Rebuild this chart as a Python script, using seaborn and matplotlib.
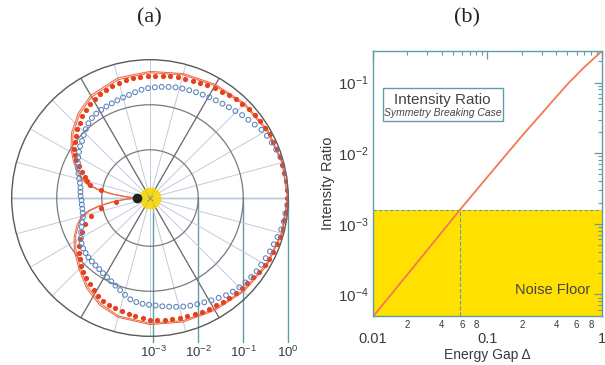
import numpy as np
import seaborn as sns
import matplotlib.pyplot as plt
from matplotlib.patches import Rectangle
from matplotlib.ticker import FixedLocator, FixedFormatter, NullFormatter, LogLocator

# ---- panel (a): angular pattern, radius given as log10(value) ----
red_theta = [0, 3.5, 7, 10.5, 14, 17.5, 21, 24.5, 28, 31.5, 35, 38.5, 42, 45.5, 49, 52.5, 56, 59.5,
             63, 66.5, 70, 73.5, 77, 80.5, 84, 87.5, 91, 94.5, 98, 101.5, 105, 108.5, 112, 115.5,
             119, 122.5, 126, 129.5, 133, 136.5, 140, 143.5, 147, 150, 153, 156, 159, 162, 165,
             167.5, 170.5, 187, 191.5, 197, 202, 206.5, 210.5, 214, 217.5, 221, 224.5, 228, 231.5,
             235, 238.5, 242, 245.5, 249, 252.5, 256, 259.5, 263, 266.5, 270, 273.5, 277, 280.5,
             284, 287.5, 291, 294.5, 298, 301.5, 305, 308.5, 312, 315.5, 319, 322.5, 326, 329.5,
             333, 336.5, 340, 343.5, 347, 350.5, 354, 357.5]
red_logr = [-0.02, -0.03, -0.035, -0.04, -0.045, -0.05, -0.055, -0.06, -0.065, -0.075, -0.09, -0.10,
            -0.12, -0.145, -0.17, -0.195, -0.22, -0.245, -0.265, -0.28, -0.295, -0.31, -0.32, -0.335,
            -0.345, -0.36, -0.37, -0.38, -0.39, -0.405, -0.42, -0.445, -0.475, -0.51, -0.55, -0.60,
            -0.65, -0.71, -0.78, -0.85, -0.92, -0.99, -1.06, -1.14, -1.23, -1.34, -1.45, -1.55, -1.63,
            -1.71, -1.96, -2.32, -1.95, -1.71, -1.52, -1.38, -1.26, -1.16, -1.07, -1.00, -0.93, -0.86,
            -0.80, -0.73, -0.67, -0.61, -0.565, -0.525, -0.50, -0.48, -0.455, -0.425, -0.395, -0.37,
            -0.355, -0.345, -0.335, -0.325, -0.315, -0.31, -0.30, -0.29, -0.28, -0.26, -0.245, -0.23,
            -0.22, -0.205, -0.185, -0.15, -0.12, -0.10, -0.085, -0.075, -0.06, -0.05, -0.048, -0.045,
            -0.03]

blue_theta = [0, 3.5, 7, 10.5, 14, 17.5, 21, 24.5, 28, 31.5, 35, 38.5, 42, 45.5, 49, 52.5, 56, 59.5,
              63, 66.5, 70, 73.5, 77, 80.5, 84, 87.5, 91, 94.5, 98, 101.5, 105, 108.5, 112, 115.5,
              119, 122.5, 126, 129.5, 133, 136.5, 140, 143.5, 147, 150.5, 154, 157.5, 161, 164.5,
              168, 171.5, 175, 178.5, 182, 185.5, 189, 192.5, 196, 199.5, 203, 206.5, 210, 213.5,
              217, 220.5, 224, 227.5, 231, 234.5, 238, 241.5, 245, 248.5, 252, 255.5, 259, 262.5,
              266, 269.5, 273, 276.5, 280, 283.5, 287, 290.5, 294, 297.5, 301, 304.5, 308, 311.5,
              315, 318.5, 322, 325.5, 329, 332.5, 336, 339.5, 343, 346.5, 350, 353.5, 357]
blue_logr = [0.02, 0.02, 0.01, 0.0, -0.01, -0.035, -0.07, -0.10, -0.13, -0.17, -0.23, -0.28, -0.32,
             -0.365, -0.40, -0.43, -0.455, -0.475, -0.495, -0.51, -0.525, -0.535, -0.55, -0.57, -0.59,
             -0.61, -0.63, -0.66, -0.70, -0.735, -0.76, -0.785, -0.805, -0.82, -0.835, -0.85, -0.875,
             -0.92, -0.98, -1.04, -1.10, -1.14, -1.19, -1.24, -1.29, -1.34, -1.39, -1.44, -1.48, -1.51,
             -1.52, -1.53, -1.55, -1.55, -1.55, -1.54, -1.52, -1.47, -1.42, -1.36, -1.30, -1.25, -1.21,
             -1.19, -1.17, -1.16, -1.145, -1.13, -1.10, -1.07, -1.03, -0.98, -0.92, -0.85, -0.78, -0.74,
             -0.715, -0.70, -0.68, -0.65, -0.62, -0.585, -0.55, -0.52, -0.49, -0.46, -0.42, -0.38,
             -0.33, -0.295, -0.265, -0.24, -0.22, -0.20, -0.19, -0.175, -0.155, -0.135, -0.11, -0.075,
             -0.055, -0.045, -0.02]

fit_theta = [0, 15, 30, 45, 60, 75, 90, 105, 120, 130, 140, 148, 155, 160, 164, 168, 171, 174, 177,
             180, 183, 186, 189, 192, 196, 200, 207, 215, 225, 235, 245, 255, 270, 285, 300, 315,
             330, 345, 360]
fit1_logr = [-0.01, -0.02, -0.05, -0.10, -0.16, -0.21, -0.26, -0.31, -0.44, -0.60, -0.80, -1.0, -1.2,
             -1.35, -1.47, -1.65, -1.9, -2.2, -2.5, -2.79, -2.5, -2.2, -1.9, -1.65, -1.47, -1.35,
             -1.18, -1.02, -0.84, -0.62, -0.44, -0.33, -0.26, -0.22, -0.19, -0.13, -0.07, -0.03, -0.01]
fit2_logr = [-0.02, -0.04, -0.08, -0.13, -0.19, -0.24, -0.29, -0.35, -0.48, -0.64, -0.84, -1.04, -1.24,
             -1.39, -1.51, -1.70, -1.95, -2.25, -2.55, -2.79, -2.55, -2.25, -1.95, -1.70, -1.51, -1.39,
             -1.22, -1.06, -0.88, -0.66, -0.48, -0.36, -0.29, -0.25, -0.22, -0.16, -0.10, -0.05, -0.02]

source_theta = 180
source_logr = -2.79
ring_values = [1e-3, 1e-2, 1e-1, 1e0]
ring_labels = ['$10^{-3}$', '$10^{-2}$', '$10^{-1}$', '$10^{0}$']

# ---- panel (b): intensity ratio vs energy gap ----
gap = [0.01, 0.02, 0.0577, 0.1, 0.2, 0.3, 0.5, 0.7, 1.0]
ratio = [4.8e-5, 1.9e-4, 1.58e-3, 4.6e-3, 1.75e-2, 3.7e-2, 0.095, 0.165, 0.28]
noise_floor = 1.58e-3
noise_gap = 0.0577
y_ticks = [1e-4, 1e-3, 1e-2, 1e-1]
y_ticklabels = ['$10^{-4}$', '$10^{-3}$', '$10^{-2}$', '$10^{-1}$']
x_ticks = [0.01, 0.1, 1]
x_ticklabels = ['0.01', '0.1', '1']
x_minor = [0.02, 0.03, 0.04, 0.05, 0.06, 0.07, 0.08, 0.09, 0.2, 0.3, 0.4, 0.5, 0.6, 0.7, 0.8, 0.9]
x_minor_labels = ['2', '', '4', '', '6', '', '8', '', '2', '', '4', '', '6', '', '8', '']

sns.set_theme(style='white')
plt.rcParams['font.family'] = ['Liberation Sans', 'DejaVu Sans']
plt.rcParams['mathtext.fontset'] = 'custom'
plt.rcParams['mathtext.rm'] = 'Liberation Sans'
plt.rcParams['mathtext.it'] = 'Liberation Sans:italic'

TEAL = '#5f9ea3'
RED = '#e8401c'
BLUE = '#5b82b8'
TXT = '#3a3a3a'
RMIN = -3.07

fig = plt.figure(figsize=(6.05, 3.65), dpi=100)
rect_a = [11.7 / 605, (365 - 336.3) / 365, 276.6 / 605, 276.6 / 365]

# cartesian overlay for the baseline and the radial scale markers
axc = fig.add_axes(rect_a, zorder=0)
axc.set_xlim(RMIN, -RMIN)
axc.set_ylim(RMIN, -RMIN)
axc.axis('off')
axc.plot([RMIN, -RMIN], [0, 0], color=TEAL, lw=1.0)
for v, lab in zip(ring_values, ring_labels):
    x = np.log10(v) - RMIN
    axc.plot([x, x], [0, -3.2], color=TEAL, lw=1.0, clip_on=False)
    axc.text(x, -3.42, lab, ha='center', va='center', fontsize=9.5, color=TXT, clip_on=False)

axp = fig.add_axes(rect_a, projection='polar', zorder=1)
axp.set_facecolor('none')
axp.set_xticks(np.deg2rad(np.arange(0, 360, 15)))
axp.set_xticklabels([])
axp.set_yticks([-2, -1])
axp.set_yticklabels([])
axp.xaxis.grid(True, color='#c2cae0', lw=0.7)
axp.yaxis.grid(True, color='#7a7a7a', lw=0.9)
axp.spines['polar'].set_color('#5a5a5a')
axp.spines['polar'].set_linewidth(1.0)
axp.vlines(np.deg2rad([60, 120, 240, 300]), RMIN, 0, color='#6e6e6e', lw=0.9, zorder=1)

axp.scatter([0], [RMIN], s=250, color='#f7d800', alpha=0.85, lw=0, zorder=2)
axp.scatter([0], [RMIN], s=14, marker='x', color='#888888', lw=0.6, zorder=3)

sns.lineplot(x=np.deg2rad(fit_theta), y=fit1_logr, ax=axp, sort=False, estimator=None,
             color='#ec6a48', lw=0.75, zorder=3)
sns.lineplot(x=np.deg2rad(fit_theta), y=fit2_logr, ax=axp, sort=False, estimator=None,
             color='#ec6a48', lw=0.75, zorder=3)
sns.scatterplot(x=np.deg2rad(red_theta), y=red_logr, ax=axp, color=RED, s=14, linewidth=0, zorder=4)
sns.scatterplot(x=np.deg2rad(blue_theta), y=blue_logr, ax=axp, facecolor='none', edgecolor=BLUE,
                s=12, linewidth=0.75, zorder=4)
axp.plot(np.deg2rad(source_theta), source_logr, 'o', color='#222222', ms=6, zorder=5)
axp.set_ylim(RMIN, 0)
axp.set_xlabel('')
axp.set_ylabel('')

# ---- panel (b) ----
axb = fig.add_axes([372.7 / 605, (365 - 315.7) / 365, 229.3 / 605, 264.7 / 365])
axb.set_xscale('log')
axb.set_yscale('log')
axb.set_xlim(0.01, 1)
axb.set_ylim(5e-5, 0.28)
axb.fill_between([0.01, 1], [5e-5, 5e-5], [noise_floor, noise_floor], color='#ffe000', lw=0, zorder=0)
axb.axhline(noise_floor, color=TEAL, ls='--', lw=0.8, dashes=(3, 2))
axb.vlines(noise_gap, 5e-5, noise_floor, color=TEAL, ls='--', lw=0.8)
sns.lineplot(x=gap, y=ratio, ax=axb, color='#f07a52', lw=1.3)

axb.yaxis.set_major_locator(FixedLocator(y_ticks))
axb.yaxis.set_major_formatter(FixedFormatter(y_ticklabels))
axb.yaxis.set_minor_locator(LogLocator(base=10, subs=range(2, 10)))
axb.yaxis.set_minor_formatter(NullFormatter())
axb.xaxis.set_major_locator(FixedLocator(x_ticks))
axb.xaxis.set_major_formatter(FixedFormatter(x_ticklabels))
axb.xaxis.set_minor_locator(FixedLocator(x_minor))
axb.xaxis.set_minor_formatter(FixedFormatter(x_minor_labels))
axb.tick_params(which='both', direction='in', top=True, right=True, color=TEAL, labelcolor=TXT)
axb.tick_params(which='major', length=6, width=0.9)
axb.tick_params(which='minor', length=3, width=0.8)
axb.tick_params(axis='x', which='major', pad=12, labelsize=10.5)
axb.tick_params(axis='x', which='minor', pad=3, labelsize=7)
axb.tick_params(axis='y', which='major', pad=3, labelsize=11)
for s in axb.spines.values():
    s.set_color(TEAL)
    s.set_linewidth(1.0)

axb.set_xlabel('Energy Gap Δ', fontsize=10, color=TXT, labelpad=1)
axb.set_ylabel('Intensity Ratio', fontsize=10.5, color=TXT, labelpad=2)

axb.add_patch(Rectangle((0.044, 0.736), 0.523, 0.125, transform=axb.transAxes,
                        facecolor='white', edgecolor=TEAL, lw=1.0, zorder=5))
axb.text(0.305, 0.815, 'Intensity Ratio', transform=axb.transAxes, ha='center', va='center',
         fontsize=11, color='#444444', zorder=6)
axb.text(0.305, 0.766, 'Symmetry Breaking Case', transform=axb.transAxes, ha='center',
         va='center', fontsize=7.5, style='italic', color='#444444', zorder=6)
axb.text(0.785, 0.097, 'Noise Floor', transform=axb.transAxes, ha='center', va='center',
         fontsize=10.5, color='#444444')

fig.text(149 / 605, 1 - 18 / 365, '(a)', family='Liberation Serif', fontsize=16,
         ha='center', va='center', color='#222222')
fig.text(467 / 605, 1 - 18 / 365, '(b)', family='Liberation Serif', fontsize=16,
         ha='center', va='center', color='#222222')

fig.savefig('out.png', dpi=100, facecolor='white')
